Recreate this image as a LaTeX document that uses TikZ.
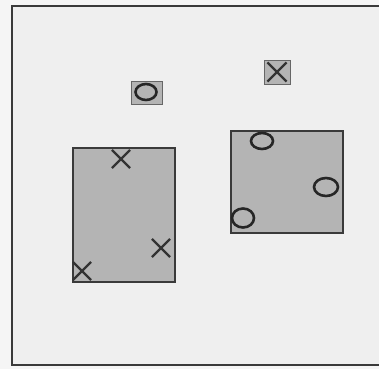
\documentclass[tikz,border=0pt]{standalone}
\usetikzlibrary{shapes.misc,shapes.geometric}

\definecolor{paper}{HTML}{EFEFEF}
\definecolor{frameline}{HTML}{3A3A3A}
\definecolor{shade}{HTML}{B4B4B4}

\begin{document}
\begin{tikzpicture}[
  x=1pt, y=-1pt,
  region/.style={draw=frameline, line width=1.6pt, fill=shade, inner sep=0pt, anchor=north west},
  xmark/.style={cross out, draw=black!80, line width=2.2pt, minimum size=16pt, inner sep=0pt},
  omark/.style={ellipse, draw=black!85, line width=2.6pt, inner sep=0pt},
]
  \useasboundingbox (0,0) rectangle (379,369);
  \fill[white!96!black] (0,0) rectangle (379,369);
  \draw[frameline, line width=2pt, fill=paper] (12,6) rectangle (382,365);

  % large regions
  \node[region, minimum width=102pt, minimum height=134pt] (left) at (72,147) {};
  \node[region, minimum width=112pt, minimum height=102pt] (right) at (230,130) {};

  % small boxes
  \node[region, line width=0.8pt, draw=black!60, minimum width=31pt, minimum height=23pt] (obox) at (131,81) {};
  \node[region, line width=0.8pt, draw=black!60, minimum width=26pt, minimum height=24pt] (xbox) at (264,60) {};
  \node[omark, minimum width=21pt, minimum height=16pt] (o0) at (146,92) {};
  \node[xmark, minimum size=17pt] (x0) at (277,72) {};

  % marks in the left region
  \node[xmark] (x1) at (121,159) {};
  \node[xmark] (x2) at (161,248) {};
  \node[xmark] (x3) at (82,271) {};

  % marks in the right region
  \node[omark, minimum width=22pt, minimum height=16pt] (o1) at (262,141) {};
  \node[omark, minimum width=24pt, minimum height=18pt] (o2) at (326,187) {};
  \node[omark, minimum width=22pt, minimum height=19pt] (o3) at (243,218) {};
\end{tikzpicture}
\end{document}
